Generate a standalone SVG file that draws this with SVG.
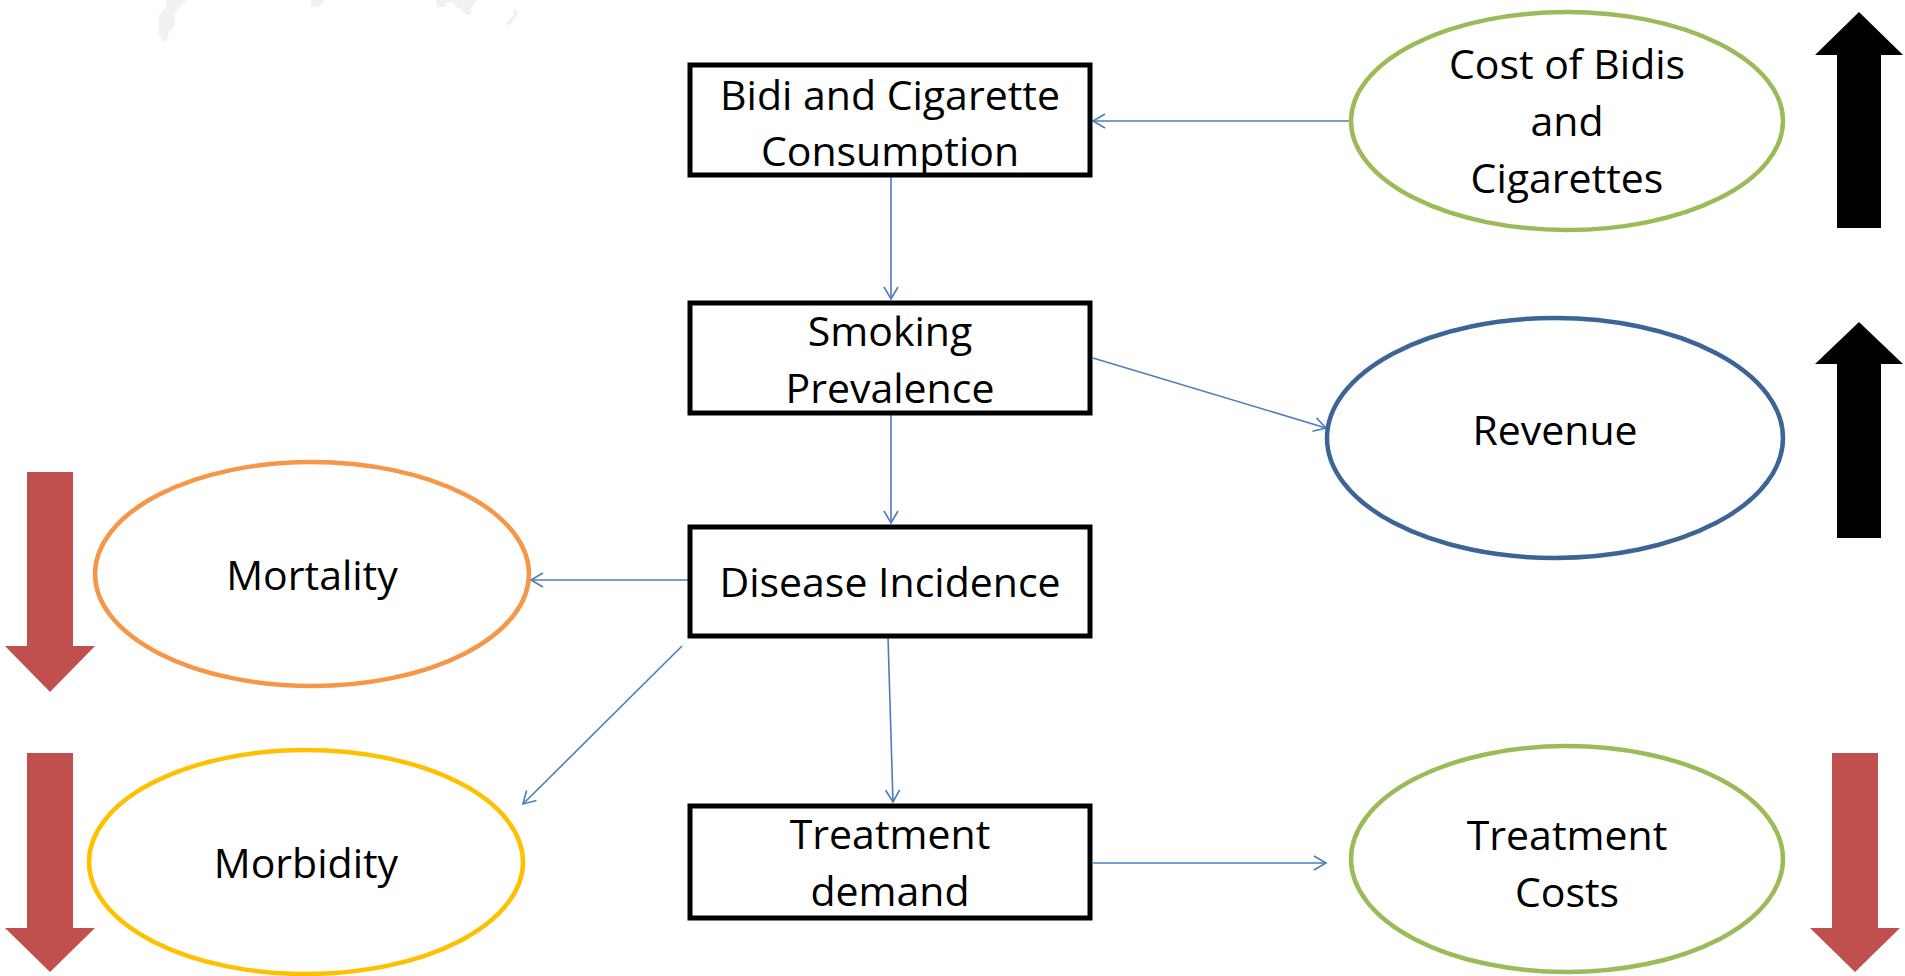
<svg xmlns="http://www.w3.org/2000/svg" width="1905" height="976" viewBox="0 0 1905 976">
<style>
text{font-family:"Open Sans","Liberation Sans",sans-serif;font-size:41px;fill:#000;text-anchor:middle}
.box{fill:#fff;stroke:#000;stroke-width:5}
.ell{fill:#fff;stroke-width:4.5}
.conn{fill:none;stroke:#4A7EBB;stroke-width:1.6;marker-end:url(#arr)}
.up{fill:#000}
.down{fill:#C0504D}
.faint{fill:#f1f1f1}
</style>
<defs>
<marker id="arr" markerUnits="userSpaceOnUse" markerWidth="16" markerHeight="18" refX="13" refY="8" orient="auto">
<path d="M1,1 L13,8 L1,15" fill="none" stroke="#4A7EBB" stroke-width="1.6"/>
</marker>
</defs>
<rect width="1905" height="976" fill="#fff"/>
<g id="background-marks">
<polygon class="faint" points="166,0 166,8 159,15 159,35 166,43 169,32 175,25 175,12 187,0"/>
<polygon class="faint" points="311,0 311,7 318,7 325,0"/>
<polygon class="faint" points="436,0 437,7 444,7 448,2 453,2 457,7 462,10 466,15 471,15 471,8 477,0"/>
<polygon class="faint" points="511,6 514,9 513,16 506,23 509,26 518,14 516,10"/>
</g>
<g id="connectors">
<line class="conn" x1="1351" y1="121" x2="1093" y2="121"/>
<line class="conn" x1="891" y1="177" x2="891" y2="299"/>
<line class="conn" x1="1093" y1="358" x2="1326" y2="428"/>
<line class="conn" x1="891" y1="414" x2="891" y2="523"/>
<line class="conn" x1="688" y1="580" x2="531" y2="580"/>
<line class="conn" x1="682" y1="646" x2="523" y2="804"/>
<line class="conn" x1="888" y1="637" x2="893" y2="802"/>
<line class="conn" x1="1093" y1="863" x2="1326" y2="863"/>
</g>
<g id="node-consumption">
<rect class="box" x="690" y="65" width="400" height="110"/>
<text x="890" y="110">Bidi and Cigarette</text>
<text x="890" y="166">Consumption</text>
</g>
<g id="node-prevalence">
<rect class="box" x="690" y="303" width="400" height="110"/>
<text x="890" y="346">Smoking</text>
<text x="890" y="403">Prevalence</text>
</g>
<g id="node-incidence">
<rect class="box" x="690" y="527" width="400" height="109"/>
<text x="890" y="597">Disease Incidence</text>
</g>
<g id="node-treatment-demand">
<rect class="box" x="690" y="806" width="400" height="112"/>
<text x="890" y="849">Treatment</text>
<text x="890" y="906">demand</text>
</g>
<g id="node-cost">
<ellipse class="ell" cx="1567" cy="121" rx="216" ry="109" stroke="#9BBB59"/>
<text x="1567" y="79">Cost of Bidis</text>
<text x="1567" y="136">and</text>
<text x="1567" y="193">Cigarettes</text>
</g>
<g id="node-revenue">
<ellipse class="ell" cx="1555" cy="438" rx="228" ry="120" stroke="#3C6494"/>
<text x="1555" y="445">Revenue</text>
</g>
<g id="node-mortality">
<ellipse class="ell" cx="312" cy="574" rx="217" ry="112" stroke="#F79646"/>
<text x="312" y="590">Mortality</text>
</g>
<g id="node-morbidity">
<ellipse class="ell" cx="306" cy="862" rx="217" ry="112" stroke="#FFC000"/>
<text x="306" y="878">Morbidity</text>
</g>
<g id="node-treatment-costs">
<ellipse class="ell" cx="1567" cy="859" rx="216" ry="113" stroke="#9BBB59"/>
<text x="1567" y="850">Treatment</text>
<text x="1567" y="907">Costs</text>
</g>
<g id="indicator-arrows">
<polygon class="up" points="1837,228 1837,55 1815,55 1859,12 1903,55 1881,55 1881,228"/>
<polygon class="up" points="1837,538 1837,364 1815,364 1859,322 1903,364 1881,364 1881,538"/>
<polygon class="down" points="27,472 73,472 73,646 95,646 50,692 5,646 27,646"/>
<polygon class="down" points="27,753 73,753 73,928 95,928 50,972 5,928 27,928"/>
<polygon class="down" points="1832,753 1878,753 1878,928 1900,928 1855,972 1810,928 1832,928"/>
</g>
</svg>
